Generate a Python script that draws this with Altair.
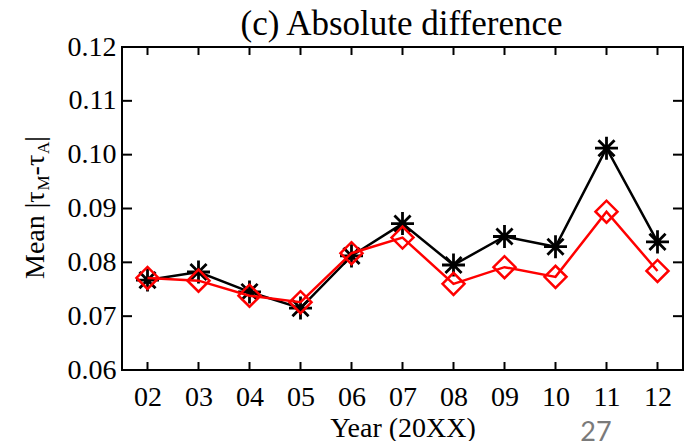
import altair as alt
import pandas as pd

years = [2, 3, 4, 5, 6, 7, 8, 9, 10, 11, 12]
black_vals = [0.0767, 0.0782, 0.0745, 0.0715, 0.0812, 0.0872, 0.0795, 0.0848, 0.0829, 0.1012, 0.0838]
red_vals = [0.0771, 0.0766, 0.0738, 0.0726, 0.0817, 0.0846, 0.0760, 0.0791, 0.0773, 0.0894, 0.0784]
y_ticks = [0.06, 0.07, 0.08, 0.09, 0.10, 0.11, 0.12]

W, H = 561, 323
SERIF = "Liberation Serif"

df_b = pd.DataFrame({"year": years, "value": black_vals})
df_r = pd.DataFrame({"year": years, "value": red_vals})
df_yt = pd.DataFrame({"value": y_ticks})
df_xt = pd.DataFrame({"year": years})
one = pd.DataFrame({"a": [0]})

xscale = alt.Scale(domain=[1.5, 12.5], nice=False, zero=False)
yscale = alt.Scale(domain=[0.06, 0.12], nice=False, zero=False)

x_axis = alt.Axis(
    values=years,
    labelExpr="datum.value < 10 ? '0' + datum.value : '' + datum.value",
    ticks=False, domain=False, grid=False,
    labelFont=SERIF, labelFontSize=28, labelColor="black", labelPadding=13,
    title="Year (20XX)", titleFont=SERIF, titleFontSize=28, titleFontWeight="normal",
    titleColor="black", titlePadding=3,
)
y_axis = alt.Axis(
    values=y_ticks, format=".2f",
    ticks=False, domain=False, grid=False,
    labelFont=SERIF, labelFontSize=28, labelColor="black", labelPadding=6,
    title=None,
)

X = alt.X("year:Q", scale=xscale, axis=x_axis)
Y = alt.Y("value:Q", scale=yscale, axis=y_axis)

star = "M-1,0L1,0M0,-1L0,1M-0.7,-0.7L0.7,0.7M-0.7,0.7L0.7,-0.7"

black_line = alt.Chart(df_b).mark_line(color="black", strokeWidth=2.5).encode(x=X, y=Y)
black_pts = alt.Chart(df_b).mark_point(shape=star, size=530, color="black", strokeWidth=2.8, filled=False, opacity=1).encode(x=X, y=Y)
red_line = alt.Chart(df_r).mark_line(color="#ff0000", strokeWidth=2.5).encode(x=X, y=Y)
red_pts = alt.Chart(df_r).mark_point(shape="diamond", size=484, color="#ff0000", strokeWidth=2.5, filled=False, opacity=1).encode(x=X, y=Y)

tick_l = alt.Chart(df_yt).mark_rule(color="black", strokeWidth=2).encode(y=Y, x=alt.value(0), x2=alt.value(10))
tick_r = alt.Chart(df_yt).mark_rule(color="black", strokeWidth=2).encode(y=Y, x=alt.value(W - 10), x2=alt.value(W))
tick_b = alt.Chart(df_xt).mark_rule(color="black", strokeWidth=2).encode(x=X, y=alt.value(H), y2=alt.value(H - 8))
tick_t = alt.Chart(df_xt).mark_rule(color="black", strokeWidth=2).encode(x=X, y=alt.value(0), y2=alt.value(8))

# y-axis title with subscripts, built from pieces
y0 = 232
bx = -78
pieces = [
    ("Mean |τ", 28, 0, 0),
    ("M", 17, 5, 88.5),
    ("-τ", 28, 0, 103.6),
    ("A", 17, 5, 125.0),
    ("|", 28, 0, 137.3),
]
text_layers = []
for txt, fs, dx, off in pieces:
    text_layers.append(
        alt.Chart(one).mark_text(angle=270, align="left", baseline="alphabetic",
                                 font=SERIF, fontSize=fs, color="black").encode(
            x=alt.value(bx + dx), y=alt.value(y0 - off), text=alt.value(txt))
    )

title = alt.Chart(one).mark_text(align="center", baseline="alphabetic", font=SERIF,
                                 fontSize=35, color="black").encode(
    x=alt.value(W / 2 - 1), y=alt.value(-12), text=alt.value("(c) Absolute difference"))

page_num = alt.Chart(one).mark_text(align="center", baseline="alphabetic", font="Lato",
                                    fontSize=27, color="#7a7a7a").encode(
    x=alt.value(474), y=alt.value(394), text=alt.value("27"))

chart = alt.layer(
    black_line, black_pts, red_line, red_pts,
    tick_l, tick_r, tick_b, tick_t, page_num, title, *text_layers
).properties(
    width=W, height=H,
    autosize=alt.AutoSizeParams(type="none"),
    padding={"left": 114, "top": 39, "right": 2, "bottom": 75},
).configure_view(stroke="black", strokeWidth=2)

chart.save("out.html", embed_options={"renderer": "svg", "actions": False})
